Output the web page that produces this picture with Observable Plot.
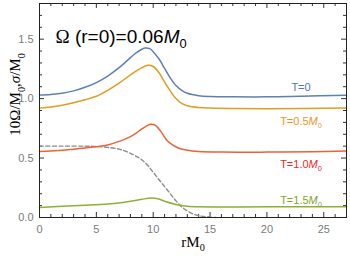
<!DOCTYPE html>
<html><head><meta charset="utf-8">
<script src="https://cdn.jsdelivr.net/npm/d3@7"></script>
<script src="https://cdn.jsdelivr.net/npm/@observablehq/plot@0.6"></script>
<style>html,body{margin:0;padding:0;background:#fff;} svg{display:block;}</style>
</head><body><div id="chart"></div>
<script>
// ---- data ----
const xT0 = [0,1,2,3,4,5,6,7,8,8.5,9,9.3,9.7,10,10.5,11,11.5,12,12.5,13,14,15,17,20,23,27];
const yT0 = [1.03,1.035,1.045,1.065,1.095,1.135,1.19,1.26,1.345,1.385,1.415,1.425,1.42,1.395,1.335,1.255,1.175,1.11,1.07,1.045,1.025,1.018,1.015,1.015,1.02,1.028];
const xT05 = [0,1,2,3,4,5,6,7,8,9,9.5,10,10.5,11,11.5,12,12.5,13,14,15,20,27];
const yT05 = [0.92,0.93,0.945,0.965,0.99,1.02,1.07,1.13,1.2,1.26,1.28,1.27,1.22,1.14,1.065,1.0,0.96,0.94,0.925,0.92,0.915,0.92];
const xT10 = [0,1,2,3,4,5,6,7,8,8.5,9,9.5,9.8,10.2,10.7,11.2,11.7,12.2,13,14,16,20,24,27];
const yT10 = [0.555,0.56,0.565,0.575,0.585,0.595,0.61,0.64,0.68,0.71,0.745,0.775,0.785,0.775,0.72,0.65,0.61,0.585,0.565,0.555,0.55,0.55,0.553,0.56];
const xT15 = [0,2,4,6,7,8,9,9.8,10.5,11,12,13,14,20,27];
const yT15 = [0.085,0.095,0.103,0.113,0.122,0.137,0.153,0.163,0.155,0.137,0.11,0.095,0.09,0.09,0.09];
const xSigma = [0,2,4,5,6,7,7.5,8,8.5,9,9.5,10,10.5,11,11.5,12,12.5,13,13.5,14,15,15.5];
const ySigma = [0.6,0.6,0.6,0.597,0.59,0.575,0.56,0.54,0.515,0.485,0.44,0.38,0.32,0.26,0.2,0.14,0.09,0.055,0.03,0.015,0.004,0];

const seriesNames = ["T=0","T=0.5M0","T=1.0M0","T=1.5M0"];
const labelText = ["T=0","T=0.5*M*_0_","T=1.0*M*_0_","T=1.5*M*_0_"];
const labelX = [23,23,23,23];
const labelY = [1.093,0.807,0.45,0.143];

const xTicks = [0,5,10,15,20,25];
const xMinor = [1,2,3,4,6,7,8,9,11,12,13,14,16,17,18,19,21,22,23,24,26,27];
const yTicks = [0,0.5,1.0,1.5];
const yTickLabels = ["0.0","0.5","1.0","1.5"];
const yMinor = [0.1,0.2,0.3,0.4,0.6,0.7,0.8,0.9,1.1,1.2,1.3,1.4,1.6,1.7];

const titleText = "^Ω^ (r=0)=0.06*M*_0_";
const xLabel = "rM_0_";
const yLabel = "10Ω/M_0_,*σ*/M_0_";

// ---- layout / style ----
const W = 350, H = 256;
const mL = 39, mR = 4, mT = 3, mB = 39;
const xDom = [0, 27], yDom = [0, 1.8];
const curveColors = ["#5E81B5","#E19C24","#EB6235","#8FB032"];
const labelColors = ["#4F73B4","#E8961C","#F0282A","#7FA52A"];
const pxX = (xDom[1]-xDom[0])/(W-mL-mR);
const pxY = (yDom[1]-yDom[0])/(H-mT-mB);
const serif = "Liberation Serif, DejaVu Serif, serif";

const zip = (xs, ys, s) => xs.map((x,i)=>({x, y: ys[i], s}));
const curves = [
  zip(xT0, yT0, seriesNames[0]),
  zip(xT05, yT05, seriesNames[1]),
  zip(xT10, yT10, seriesNames[2]),
  zip(xT15, yT15, seriesNames[3])
];
const sigma = zip(xSigma, ySigma, "sigma");
const labels = labelText.map((t,i)=>({t, x: labelX[i], y: labelY[i], c: labelColors[i]}));

const tickColor = "#333";
const marks = [
  Plot.axisX({ticks: xTicks, tickSize: 0, tickPadding: 8, fill: "#7a7a7a", fontSize: 11, label: null}),
  Plot.axisY({ticks: yTicks, tickFormat: (d,i)=>yTickLabels[i], tickSize: 0, tickPadding: 6, fill: "#7a7a7a", fontSize: 11, label: null}),
  // inward ticks, all four sides
  Plot.ruleX(xTicks, {x: d=>d, y1: yDom[0], y2: yDom[0]+5*pxY, stroke: tickColor}),
  Plot.ruleX(xMinor, {x: d=>d, y1: yDom[0], y2: yDom[0]+3*pxY, stroke: tickColor}),
  Plot.ruleX(xTicks, {x: d=>d, y1: yDom[1], y2: yDom[1]-5*pxY, stroke: tickColor}),
  Plot.ruleX(xMinor, {x: d=>d, y1: yDom[1], y2: yDom[1]-3*pxY, stroke: tickColor}),
  Plot.ruleY(yTicks, {y: d=>d, x1: xDom[0], x2: xDom[0]+5*pxX, stroke: tickColor}),
  Plot.ruleY(yMinor, {y: d=>d, x1: xDom[0], x2: xDom[0]+3*pxX, stroke: tickColor}),
  Plot.ruleY(yTicks, {y: d=>d, x1: xDom[1], x2: xDom[1]-5*pxX, stroke: tickColor}),
  Plot.ruleY(yMinor, {y: d=>d, x1: xDom[1], x2: xDom[1]-3*pxX, stroke: tickColor}),
  Plot.line(sigma, {x: "x", y: "y", curve: "catmull-rom", stroke: "#8c8c8c", strokeWidth: 1.4, strokeDasharray: "4,2.5"}),
  ...curves.map((c,i)=>Plot.line(c, {x: "x", y: "y", curve: "catmull-rom", stroke: curveColors[i], strokeWidth: 1.5})),
  Plot.frame({stroke: "#222", strokeWidth: 1}),
  Plot.text(labels, {x: "x", y: "y", text: "t", fill: "c", fontSize: 11, textAnchor: "middle"}),
  Plot.text([titleText], {frameAnchor: "top-left", dx: 16, dy: 26, text: d=>d, fontSize: 19, fill: "#000", textAnchor: "start"}),
  Plot.text([xLabel], {frameAnchor: "bottom", dy: 29, text: d=>d, fontSize: 15, fill: "#000", textAnchor: "middle", fontFamily: serif}),
  Plot.text([yLabel], {frameAnchor: "left", dx: -24, dy: -16, rotate: -90, text: d=>d, fontSize: 15, fill: "#000", textAnchor: "middle", fontFamily: serif})
];

const svg = Plot.plot({
  width: W, height: H,
  marginLeft: mL, marginRight: mR, marginTop: mT, marginBottom: mB,
  x: {domain: xDom},
  y: {domain: yDom},
  style: {fontFamily: "Liberation Sans, Arial, sans-serif", background: "#fff", overflow: "visible"},
  marks
});

// rich text: *x* italic, _x_ subscript, ^x^ serif
function richify(el) {
  const raw = el.textContent;
  if (!/[*_^]/.test(raw)) return;
  const fs = parseFloat(getComputedStyle(el).fontSize) || 12;
  const parts = [];
  const re = /\*([^*]+)\*|_([^_]+)_|\^([^^]+)\^|([^*_^]+)/g;
  let m;
  while ((m = re.exec(raw))) {
    if (m[1]) parts.push({t: m[1], it: true});
    else if (m[2]) parts.push({t: m[2], sub: true});
    else if (m[3]) parts.push({t: m[3], serif: true});
    else parts.push({t: m[4]});
  }
  while (el.firstChild) el.removeChild(el.firstChild);
  let shifted = false;
  const shift = fs * 0.28;
  for (const p of parts) {
    const ts = document.createElementNS("http://www.w3.org/2000/svg", "tspan");
    ts.textContent = p.t;
    if (p.it) ts.setAttribute("font-style", "italic");
    if (p.serif) ts.setAttribute("font-family", serif);
    if (p.sub) {
      ts.setAttribute("font-size", (fs*0.68).toFixed(2));
      if (!shifted) { ts.setAttribute("dy", shift.toFixed(2)); shifted = true; }
    } else if (shifted) {
      ts.setAttribute("dy", (-shift).toFixed(2)); shifted = false;
    }
    el.appendChild(ts);
  }
}
document.getElementById("chart").appendChild(svg);
svg.querySelectorAll("text").forEach(richify);
</script>
</body></html>
